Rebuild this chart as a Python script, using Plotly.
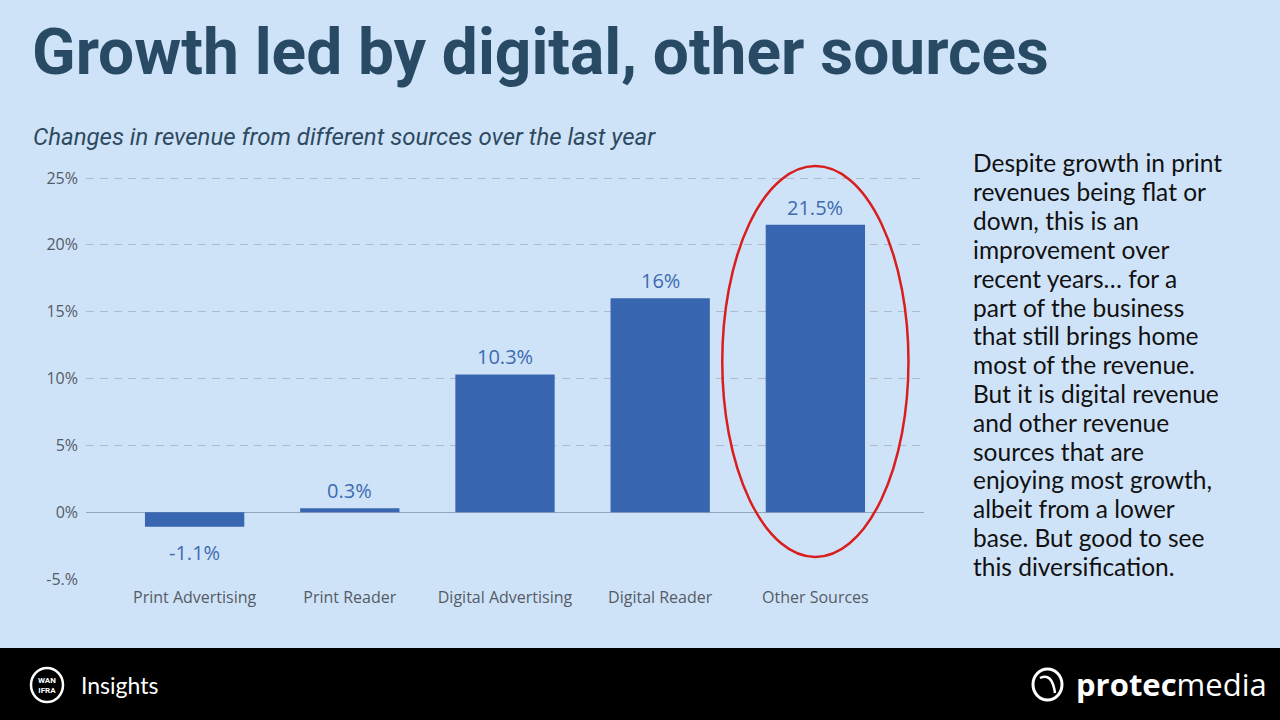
import plotly.graph_objects as go

# chart data
categories = ["Print Advertising", "Print Reader", "Digital Advertising",
              "Digital Reader", "Other Sources"]
growth = [-1.1, 0.3, 10.3, 16, 21.5]
labels = ["-1.1%", "0.3%", "10.3%", "16%", "21.5%"]
y_ticks = [-5, 0, 5, 10, 15, 20, 25]
y_tick_text = ["-5.%", "0%", "5%", "10%", "15%", "20%", "25%"]

title = "Growth led by digital, other sources"
subtitle = "Changes in revenue from different sources over the last year"
side_lines = [
    "Despite growth in print",
    "revenues being flat or",
    "down, this is an",
    "improvement over",
    "recent years\u2026 for a",
    "part of the business",
    "that still brings home",
    "most of the revenue.",
    "But it is digital revenue",
    "and other revenue",
    "sources that are",
    "enjoying most growth,",
    "albeit from a lower",
    "base. But good to see",
    "this diversification.",
]

BG = "#cfe3f8"
BAR = "#3866b0"
W, H = 1280, 720
TICK_FONT = dict(family="Open Sans, sans-serif", size=16, color="#555b66")
LABEL_FONT = dict(family="Open Sans, sans-serif", size=20, color="#3d6bb0")

fig = go.Figure(go.Bar(
    x=categories,
    y=growth,
    marker=dict(color=BAR, line=dict(width=0)),
    hoverinfo="skip",
))

# value labels above (or below) each bar
for cat, val, lab in zip(categories, growth, labels):
    fig.add_annotation(x=cat, y=val, xref="x", yref="y", text=lab,
                       showarrow=False, font=LABEL_FONT,
                       yanchor="bottom" if val >= 0 else "top",
                       yshift=2 if val >= 0 else -10)

# 25% sits at y=178 px, -5% at y=579 px; range extended above so the ellipse fits
px_per_pct = (579 - 178) / 30
y_top = 27.5
fig.update_layout(
    width=W, height=H,
    paper_bgcolor=BG, plot_bgcolor=BG,
    margin=dict(l=0, r=0, t=0, b=0, pad=0),
    showlegend=False,
    bargap=0.36,
    xaxis=dict(
        domain=[86 / W, 924 / W],
        range=[-0.7, 4.7],
        automargin=False,
        showgrid=False, zeroline=False, showline=False,
        ticks="", ticklabelstandoff=7,
        tickfont=TICK_FONT,
        fixedrange=True,
    ),
    yaxis=dict(
        domain=[(H - 579) / H, (H - 579 + (y_top + 5) * px_per_pct) / H],
        range=[-5, y_top],
        automargin=False,
        tickvals=y_ticks, ticktext=y_tick_text,
        showgrid=True, gridcolor="#adbccd", griddash="8px,6px", gridwidth=1,
        zeroline=True, zerolinecolor="#93a6bd", zerolinewidth=1,
        showline=False, ticks="", ticklabelstandoff=7,
        tickfont=TICK_FONT,
        fixedrange=True,
    ),
)

# highlight ellipse around "Other Sources"
fig.add_shape(type="circle", xref="x", yref="y",
              x0=3.4, x1=4.6, y0=-3.35, y1=25.9,
              line=dict(color="#d91e1e", width=2.5), layer="above")

# footer band
fig.add_shape(type="rect", xref="paper", yref="paper",
              x0=0, x1=1, y0=0, y1=(H - 648) / H,
              fillcolor="#000000", line=dict(width=0), layer="above")
fig.add_shape(type="circle", xref="paper", yref="paper",
              x0=31 / W, x1=63 / W, y0=(H - 702) / H, y1=(H - 668) / H,
              line=dict(color="white", width=2.5), layer="above")
fig.add_shape(type="circle", xref="paper", yref="paper",
              x0=1033 / W, x1=1062 / W, y0=(H - 700) / H, y1=(H - 669) / H,
              line=dict(color="white", width=3), layer="above")
fig.add_shape(type="path", xref="paper", yref="paper",
              path="M %f %f Q %f %f %f %f" % (1040 / W, (H - 678) / H,
                                              1052 / W, (H - 672) / H,
                                              1055 / W, (H - 693) / H),
              line=dict(color="white", width=2.5), layer="above")

annotations = [
    dict(text="<b>" + title + "</b>", x=30 / W, y=(H - 53) / H,
         font=dict(family="Roboto", size=64, color="#284a64")),
    dict(text="<i>" + subtitle + "</i>", x=31 / W, y=(H - 137) / H,
         font=dict(family="Roboto", size=24, color="#2e4a61")),
    dict(text="<b>WAN<br>IFRA</b>", x=47 / W, y=(H - 685) / H,
         xanchor="center", align="center",
         font=dict(family="Roboto", size=8, color="white")),
    dict(text="Insights", x=79 / W, y=(H - 685) / H,
         font=dict(family="Lato", size=23, color="white")),
    dict(text="<b>protec</b>media", x=1269 / W, y=(H - 684) / H,
         xanchor="right",
         font=dict(family="Open Sans", size=31, color="white")),
]
for i, line in enumerate(side_lines):
    annotations.append(dict(text=line, x=971 / W, y=(H - 163 - i * 28.8) / H,
                            font=dict(family="Lato", size=24.5, color="#111111")))
for a in annotations:
    a.setdefault("xanchor", "left")
    a.setdefault("yanchor", "middle")
    fig.add_annotation(xref="paper", yref="paper", showarrow=False, **a)

fig.write_html("out.html",
               config={"displayModeBar": False},
               post_script="var gd=document.getElementById('{plot_id}');"
                           "gd.style.position='fixed';gd.style.left='0';gd.style.top='0';"
                           "document.body.style.margin='0';"
                           "document.body.style.background='%s';" % BG)
